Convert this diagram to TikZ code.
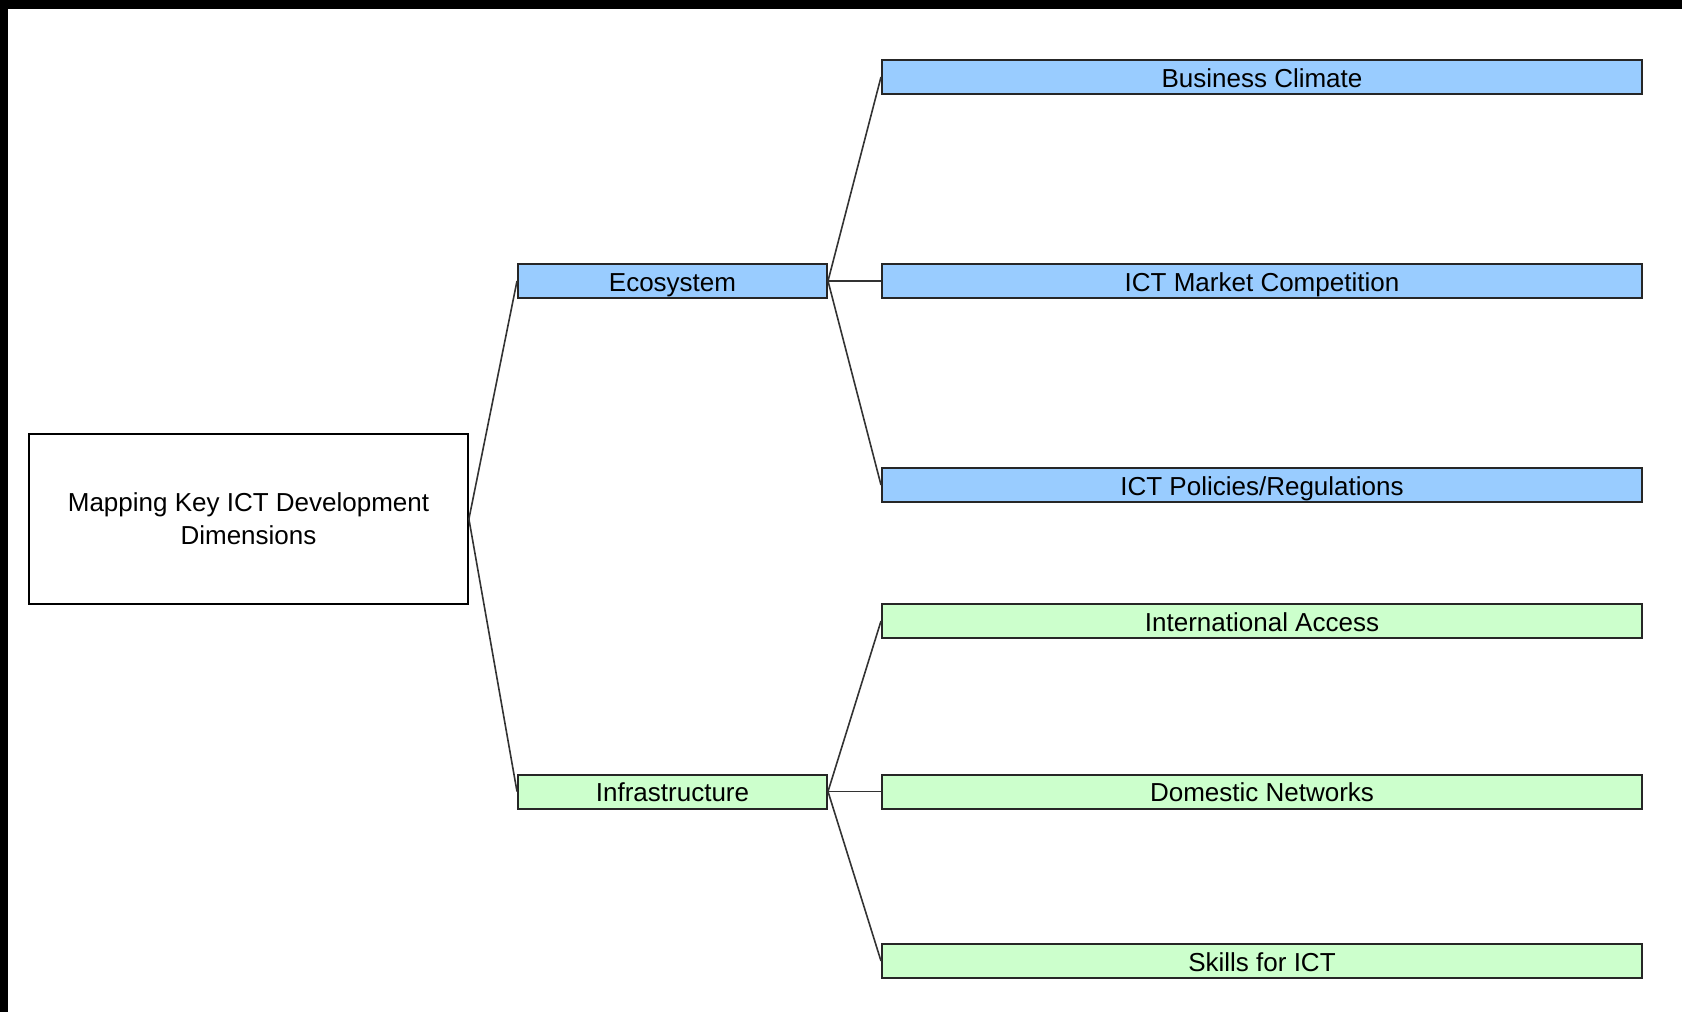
\documentclass[tikz,border=0pt]{standalone}
\usepackage{fontspec}
\setmainfont{Liberation Sans}
\usepackage{xcolor}
\usepackage{tikz}
\definecolor{ecoblue}{HTML}{99CCFF}
\definecolor{infragreen}{HTML}{CCFFCC}
\definecolor{linkgray}{HTML}{333333}
\tikzset{
  rootbox/.style={draw=black,line width=0.9pt,fill=white,minimum width=219.5pt,minimum height=85pt,inner sep=0pt,align=center,font=\fontsize{13}{16.5}\selectfont},
  catbox/.style={draw=black!85,line width=1pt,inner sep=0pt,minimum width=154.5pt,minimum height=17pt,text height=12pt,text depth=2pt,font=\fontsize{13}{15}\selectfont},
  leafbox/.style={catbox,minimum width=380pt},
  link/.style={draw=linkgray,line width=0.8pt}
}

\begin{document}
\begin{tikzpicture}[x=0.5pt,y=-0.5pt]
    \useasboundingbox (0,0) rectangle (1682,1012);
    % dark frame along the top and left edge
    \fill[black] (0,0) rectangle (1682,9);
    \fill[black] (0,0) rectangle (8,1012);
    \node[rootbox] (root) at (248.5,519) {Mapping Key ICT Development\\Dimensions};
    \node[catbox,fill=ecoblue] (eco) at (672.5,281) {Ecosystem};
    \node[catbox,fill=infragreen] (infra) at (672.5,791.5) {Infrastructure};
    \node[leafbox,fill=ecoblue] (busclim) at (1262,77) {Business Climate};
    \node[leafbox,fill=ecoblue] (mktcomp) at (1262,281) {ICT Market Competition};
    \node[leafbox,fill=ecoblue] (policies) at (1262,485) {ICT Policies/Regulations};
    \node[leafbox,fill=infragreen] (intlaccess) at (1262,621) {International Access};
    \node[leafbox,fill=infragreen] (domnet) at (1262,791.5) {Domestic Networks};
    \node[leafbox,fill=infragreen] (skills) at (1262,961) {Skills for ICT};
    \draw[link] (root.east) -- (eco.west);
    \draw[link] (root.east) -- (infra.west);
    \draw[link] (eco.east) -- (busclim.west);
    \draw[link] (eco.east) -- (mktcomp.west);
    \draw[link] (eco.east) -- (policies.west);
    \draw[link] (infra.east) -- (intlaccess.west);
    \draw[link] (infra.east) -- (domnet.west);
    \draw[link] (infra.east) -- (skills.west);
  \end{tikzpicture}
\end{document}
